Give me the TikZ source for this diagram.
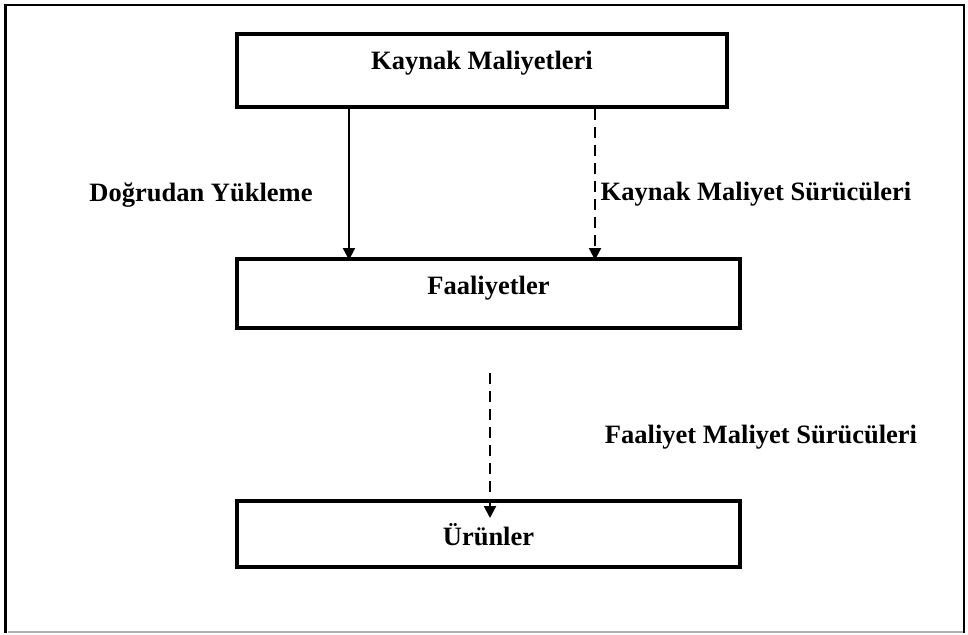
\documentclass[tikz,border=0pt]{standalone}
\usepackage{fontspec}
\setmainfont{Liberation Serif}
\usetikzlibrary{arrows.meta}
\begin{document}
\begin{tikzpicture}[x=1pt,y=-1pt,
  txt/.style={font=\fontsize{26.5}{30}\selectfont\bfseries},
  box/.style={draw, line width=4pt, anchor=north west, inner ysep=0pt, txt},
  arr/.style={line width=2.2pt, -{Triangle[width=12pt,length=12pt]}},
  dasharr/.style={arr, dash pattern=on 11pt off 7pt}]
\useasboundingbox (0,0) rectangle (968,634);
% outer frame
\draw[line width=3pt] (5,633) -- (5,5);
\draw[line width=2.5pt] (4,5) -- (964,5) -- (964,633);
\draw[gray!60, line width=1.5pt] (8,632) -- (963,632);
% boxes
\node[box, minimum width=490pt, text height=35pt, text depth=38pt] (kay) at (235,32) {Kaynak Maliyetleri};
\node[box, minimum width=503pt, text height=35pt, text depth=34pt] (faa) at (235,257) {Faaliyetler};
\node[box, minimum width=503pt, text height=44pt, text depth=22pt] (uru) at (235,499) {Ürünler};
% connectors
\coordinate (c1) at (349,0);
\coordinate (c2) at (595,0);
\coordinate (s3) at (490,373);
\draw[arr] (kay.south -| c1) -- ([yshift=-3pt]faa.north -| c1);
\draw[dasharr] (kay.south -| c2) -- ([yshift=-3pt]faa.north -| c2);
\draw[dasharr] (s3) -- ([yshift=-19pt]uru.north -| s3);
% labels
\node[txt, anchor=base] (l1) at (201,201) {Doğrudan Yükleme};
\node[txt, anchor=base] (l2) at (756,200) {Kaynak Maliyet Sürücüleri};
\node[txt, anchor=base] (l3) at (761,443) {Faaliyet Maliyet Sürücüleri};
\end{tikzpicture}
\end{document}
